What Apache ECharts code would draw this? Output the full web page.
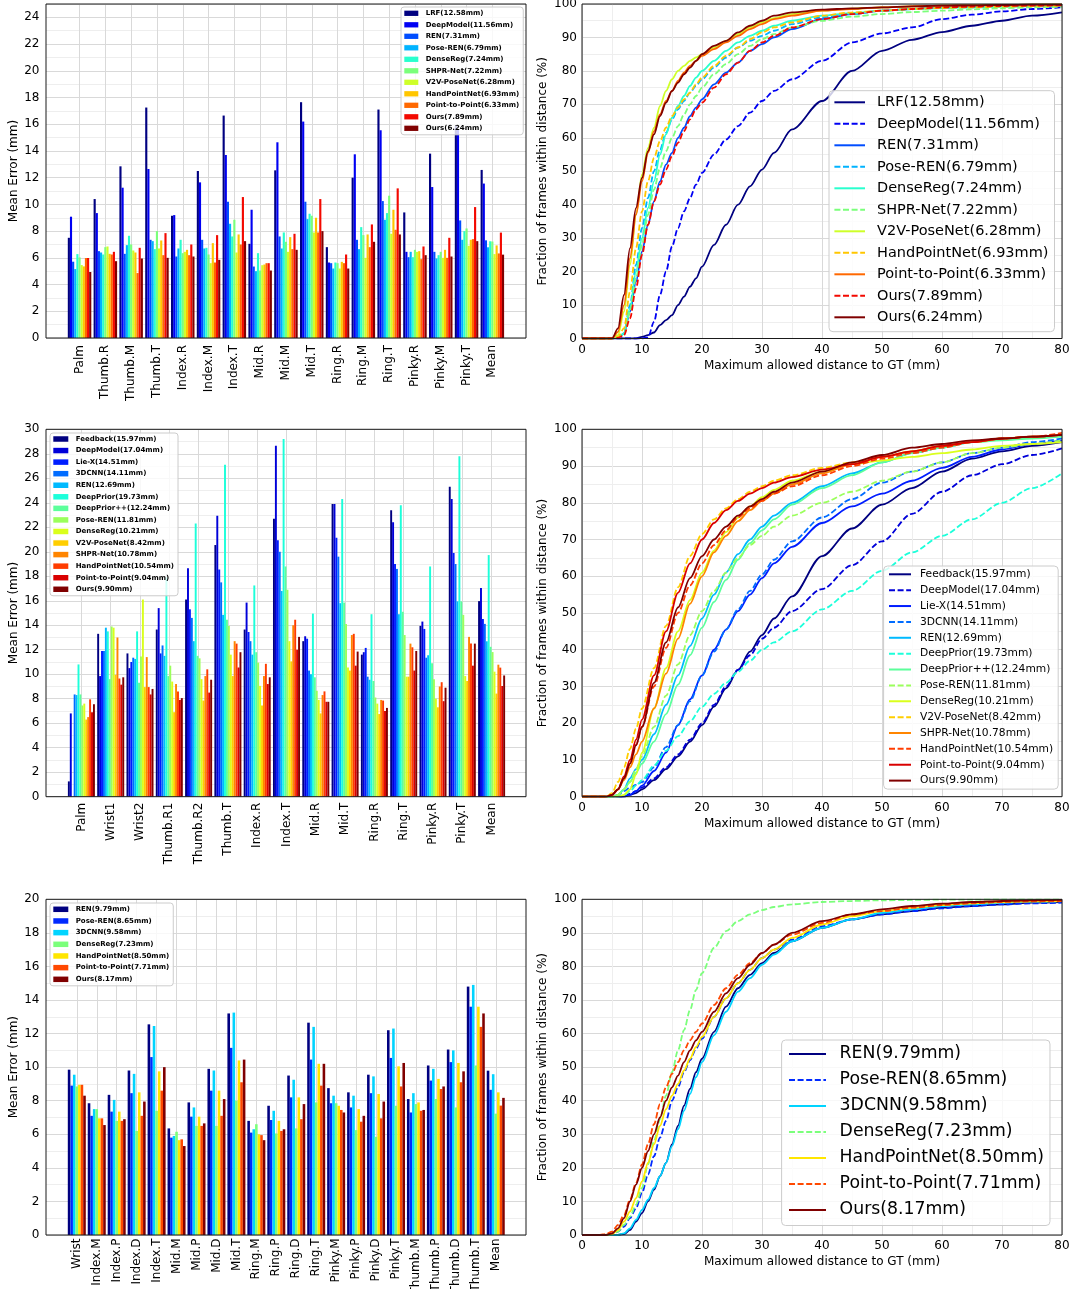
<!DOCTYPE html>
<html><head><meta charset="utf-8">
<script src="https://cdn.jsdelivr.net/npm/echarts@6/dist/echarts.min.js"></script>
<style>html,body{margin:0;padding:0;background:#fff;width:1075px;height:1289px;overflow:hidden}
.p{position:absolute;left:0;top:0;width:1075px;height:1289px;}</style>
</head><body>
<div id="c1" class="p"></div><div id="c2" class="p"></div><div id="c3" class="p"></div>
<div id="c4" class="p"></div><div id="c5" class="p"></div><div id="c6" class="p"></div>
<script>
// ---------------- Panel 1 (bars) ----------------
const P1_CATS = ['Palm','Thumb.R','Thumb.M','Thumb.T','Index.R','Index.M','Index.T','Mid.R','Mid.M','Mid.T','Ring.R','Ring.M','Ring.T','Pinky.R','Pinky.M','Pinky.T','Mean'];
const P1_NAMES = ['LRF(12.58mm)','DeepModel(11.56mm)','REN(7.31mm)','Pose-REN(6.79mm)','DenseReg(7.24mm)','SHPR-Net(7.22mm)','V2V-PoseNet(6.28mm)','HandPointNet(6.93mm)','Point-to-Point(6.33mm)','Ours(7.89mm)','Ours(6.24mm)'];
const b1_LRF      = [7.5,10.4,12.85,17.25,9.15,12.5,16.65,7.05,12.55,17.65,6.8,12.0,17.1,9.4,13.8,15.9,12.58];
const b1_DeepModel= [9.08,9.35,11.25,12.65,9.2,11.65,13.7,9.6,14.65,16.2,5.65,13.75,15.55,6.45,11.3,15.6,11.56];
const b1_REN      = [5.71,6.5,6.3,7.35,6.1,7.35,10.2,5.35,7.6,10.2,5.6,7.35,10.25,6.05,6.45,8.8,7.31];
const b1_PoseREN  = [5.16,6.4,6.95,7.25,6.7,6.7,8.55,5.0,6.7,8.9,5.2,6.65,8.85,6.45,5.95,7.35,6.79];
const b1_DenseReg = [6.28,6.25,7.65,6.65,7.35,6.75,7.6,6.35,7.9,9.3,5.65,8.3,9.35,6.05,6.2,8.0,7.24];
const b1_SHPR     = [6.03,6.8,7.0,8.0,6.35,6.25,8.85,5.05,7.2,9.15,5.6,7.7,10.65,6.6,6.45,8.2,7.22];
const b1_V2V      = [5.46,6.85,6.55,6.7,6.45,5.6,6.4,5.45,6.45,7.9,5.2,6.0,7.8,6.45,6.0,6.9,6.28];
const b1_HPN      = [5.36,6.3,6.4,7.3,6.6,7.1,7.75,5.5,7.55,9.0,5.7,7.75,9.6,6.5,6.6,7.35,6.93];
const b1_P2P      = [5.99,6.25,4.86,6.2,6.2,5.65,7.0,5.6,6.65,7.9,5.6,6.8,8.1,5.9,6.0,7.4,6.33];
const b1_Ours1    = [5.99,6.45,6.75,7.85,7.0,7.7,10.55,5.6,7.8,10.4,6.25,8.5,11.2,6.85,7.5,9.8,7.89];
const b1_Ours2    = [4.94,5.75,5.95,6.0,6.1,5.85,7.25,5.05,6.6,8.0,5.2,7.2,7.75,6.2,6.1,7.25,6.24];
const P1_SERIES = [b1_LRF,b1_DeepModel,b1_REN,b1_PoseREN,b1_DenseReg,b1_SHPR,b1_V2V,b1_HPN,b1_P2P,b1_Ours1,b1_Ours2];

// ---------------- Panel 2 (bars) ----------------
const P2_CATS = ['Palm','Wrist1','Wrist2','Thumb.R1','Thumb.R2','Thumb.T','Index.R','Index.T','Mid.R','Mid.T','Ring.R','Ring.T','Pinky.R','Pinky.T','Mean'];
const P2_NAMES = ['Feedback(15.97mm)','DeepModel(17.04mm)','Lie-X(14.51mm)','3DCNN(14.11mm)','REN(12.69mm)','DeepPrior(19.73mm)','DeepPrior++(12.24mm)','Pose-REN(11.81mm)','DenseReg(10.21mm)','V2V-PoseNet(8.42mm)','SHPR-Net(10.78mm)','HandPointNet(10.54mm)','Point-to-Point(9.04mm)','Ours(9.90mm)'];
const b2_Feedback = [1.25,13.3,11.7,13.65,16.1,20.55,13.65,22.7,12.7,23.9,11.6,23.4,13.95,25.3,15.97];
const b2_DeepModel= [6.8,9.85,10.5,15.4,18.65,22.95,15.85,28.65,13.1,23.9,11.8,22.4,14.3,24.3,17.04];
const b2_LieX     = [0,11.9,11.0,11.7,15.3,18.55,13.45,20.95,12.9,21.15,12.15,19.0,13.7,19.9,14.51];
const b2_3DCNN    = [8.35,11.9,11.35,12.35,14.6,17.5,12.7,20.0,10.3,19.6,9.8,18.6,11.35,19.0,14.11];
const b2_REN      = [8.3,13.8,11.25,11.5,12.7,14.85,11.6,16.8,10.0,15.8,9.55,14.9,11.55,15.95,12.69];
const b2_DeepPrior= [10.8,13.5,13.5,17.9,22.3,27.1,17.25,29.2,14.95,24.3,14.9,23.8,18.8,27.8,19.73];
const b2_DeepPriorPP=[8.35,9.6,9.3,9.85,11.5,14.45,11.8,18.8,9.75,15.85,9.45,15.1,10.9,15.95,12.24];
const b2_PoseREN  = [7.45,13.9,11.45,10.7,11.3,13.95,10.95,16.9,8.65,14.1,8.1,13.2,9.6,14.85,11.81];
const b2_DenseReg = [7.6,13.8,16.1,9.4,9.6,11.6,9.05,12.7,7.9,10.55,7.6,9.8,8.0,9.85,10.21];
const b2_V2V      = [6.3,9.95,8.95,6.9,7.85,9.85,7.45,11.05,6.8,10.3,6.75,9.8,7.3,9.45,8.42];
const b2_SHPR     = [6.5,13.0,11.4,9.2,9.85,12.7,9.85,14.0,8.3,13.2,7.9,12.5,9.0,13.05,10.78];
const b2_HPN      = [7.95,9.65,8.95,8.6,10.4,12.5,10.85,14.45,8.6,13.3,7.85,12.2,9.35,12.5,10.54];
const b2_P2P      = [6.9,9.15,8.35,7.9,8.5,10.55,9.2,12.0,7.75,10.7,7.0,10.3,7.8,10.7,9.04];
const b2_Ours     = [7.55,9.75,8.8,8.05,9.55,11.8,9.75,13.05,7.75,11.85,7.25,11.9,8.9,12.5,9.90];
const P2_SERIES = [b2_Feedback,b2_DeepModel,b2_LieX,b2_3DCNN,b2_REN,b2_DeepPrior,b2_DeepPriorPP,b2_PoseREN,b2_DenseReg,b2_V2V,b2_SHPR,b2_HPN,b2_P2P,b2_Ours];

// ---------------- Panel 3 (bars) ----------------
const P3_CATS = ['Wrist','Index.M','Index.P','Index.D','Index.T','Mid.M','Mid.P','Mid.D','Mid.T','Ring.M','Ring.P','Ring.D','Ring.T','Pinky.M','Pinky.P','Pinky.D','Pinky.T','Thumb.M','Thumb.P','Thumb.D','Thumb.T','Mean'];
const P3_NAMES = ['REN(9.79mm)','Pose-REN(8.65mm)','3DCNN(9.58mm)','DenseReg(7.23mm)','HandPointNet(8.50mm)','Point-to-Point(7.71mm)','Ours(8.17mm)'];
const b3_REN      = [9.85,7.85,8.35,9.8,12.55,6.35,7.9,9.9,13.2,6.8,7.7,9.5,12.65,8.75,8.5,9.55,12.2,8.1,10.1,11.05,14.8,9.79];
const b3_PoseREN  = [8.9,7.1,7.35,8.45,10.6,5.8,7.05,8.6,11.15,6.1,6.85,8.2,10.45,7.85,7.6,8.45,10.55,7.3,9.2,10.3,13.6,8.65];
const b3_3DCNN    = [9.55,7.5,8.05,9.6,12.45,5.9,7.6,9.8,13.25,6.3,7.4,9.25,12.4,8.3,8.3,9.45,12.3,8.45,9.9,11.0,14.9,9.58];
const b3_DenseReg = [8.85,7.5,6.8,6.2,7.4,6.15,6.5,6.5,8.0,6.6,6.05,6.35,7.9,7.85,6.25,5.85,7.7,7.8,8.1,7.6,10.1,7.23];
const b3_HPN      = [8.95,6.95,7.35,8.5,9.75,5.65,7.05,8.6,10.4,6.0,6.8,8.2,10.2,7.7,7.5,8.4,10.05,7.9,9.3,10.25,13.6,8.50];
const b3_P2P      = [8.95,6.95,6.8,7.1,8.6,5.7,6.5,7.1,9.1,5.95,6.2,6.9,8.9,7.45,6.75,6.95,8.85,7.4,8.7,9.1,12.4,7.71];
const b3_Ours     = [8.3,6.55,6.9,7.95,10.0,5.3,6.65,8.1,10.45,5.65,6.3,7.8,10.2,7.3,7.1,7.95,10.25,7.45,8.85,9.75,13.2,8.17];
const P3_SERIES = [b3_REN,b3_PoseREN,b3_3DCNN,b3_DenseReg,b3_HPN,b3_P2P,b3_Ours];

// ---------------- Panel 4 (CDF) ----------------
const X4 = [0,5,6,7,8,9,10,11,12,13,14,15,16,17,18,19,20,22,24,26,28,30,32,35,40,45,50,55,60,65,70,75,80];
const l4_LRF      = [0,0,0,0,0,0,0.5,1,1.8,4,5.5,7,10,12.5,15.5,18,21.5,28,34,40,45.5,50.5,55.5,62.5,71,80,86,89.3,91.6,93.5,95,96.5,97.5];
const l4_DeepModel= [0,0,0,0,0,0,0,0.3,5,13,20,27.5,33,38,42,46,49.5,55,59.5,63.5,67.5,71,74,77.5,83,88.5,91.2,93,95.5,96.8,97.8,98.5,99];
const l4_REN      = [0,0,0.2,1.5,8,17,26,34,41,47,52,55.5,60,63,66.5,69,71.5,76,79.5,82.5,86,88,90,92.5,95.5,97,98,98.5,99,99.2,99.4,99.5,99.6];
const l4_PoseREN  = [0,0,0.2,1.5,10,22,33,42,50,56.5,61.5,65.5,68.5,71,73.5,75.5,77.5,81,84,87,89,90.5,92,94,96,97,98,98.5,98.8,99,99.2,99.4,99.5];
const l4_DenseReg = [0,0,0.2,1.5,9,20,30,39,47,55,61,66,69.5,72.5,75.5,78,80,83,86,88.5,90.5,92,93.5,95,96.5,97.3,98,98.5,98.8,99,99.2,99.4,99.5];
const l4_SHPR     = [0,0,0.2,1.2,8,18,28,37,44.5,51,56,60,63.5,67,70,72.5,75,79,82,85,87.5,89.5,91,93,95,96.2,97,97.6,98,98.4,98.7,99,99.2];
const l4_V2V      = [0,0,1,8,22,37,49,57,63,69.5,74,77.5,80,81.5,83,84,85,87,89,91,93,94.5,95.8,97,98,98.6,99,99.3,99.5,99.6,99.7,99.8,99.8];
const l4_HPN      = [0,0,0.5,3,14,27,38,47,54,59,63,66.5,69,71.5,73.5,76,78,81.5,84.5,87,89.5,91.5,93,94.5,96.5,97.5,98,98.5,98.8,99,99.2,99.4,99.5];
const l4_P2P      = [0,0,2,10,24,37,47,55.5,62,67,71,74,77,79.5,81.5,83,84.5,86.5,88.5,90.5,92.5,94,95.5,96.5,98,98.5,99,99.3,99.5,99.6,99.7,99.8,99.8];
const l4_Ours1    = [0,0,0.2,1,6,15,25,34,41,46,50.5,54.5,58.5,62,65.5,68.5,70.5,75,79,82.5,86,88.5,90.5,93,95.5,97,98,98.5,99,99.2,99.4,99.5,99.6];
const l4_Ours2    = [0,0,3,13,27,39,48,56,61,66.5,70.5,74,76.5,79,81,83,85,87.5,89,91.5,93.5,95,96.5,97.5,98.3,98.7,99,99.3,99.5,99.6,99.7,99.8,99.8];
const P4_SERIES = [l4_LRF,l4_DeepModel,l4_REN,l4_PoseREN,l4_DenseReg,l4_SHPR,l4_V2V,l4_HPN,l4_P2P,l4_Ours1,l4_Ours2];
const P4_DASHED = [false,true,false,true,false,true,false,true,false,true,false];

// ---------------- Panel 5 (CDF) ----------------
const X5 = [0,4,5,6,7,8,9,10,12,14,16,18,20,22,24,26,28,30,32,35,40,45,50,55,60,65,70,75,80];
const l5_Feedback = [0,0,0,0,0,0.5,1,2,4.5,7.5,11,15,19.5,24.5,29.5,34.5,39.5,44,48.5,54.5,65.5,73,79.5,84,88.5,92,94,95.5,96.5];
const l5_DeepModel= [0,0,0,0,0,0.8,1.5,2.5,5,8,11.5,15.5,20,25,30,34.5,38.5,43,46,50.5,56.5,63,69.5,77,83,87.5,90.5,93,94.8];
const l5_LieX     = [0,0,0,0,0,0.5,1.5,3,7,12,19.5,26.5,33,40,45.5,50.5,55,59.5,63.5,68,74.5,79,82.5,86,89.5,92.5,94.5,96,97];
const l5_3DCNN    = [0,0,0,0.5,1.5,2.5,3.2,4,8,13.5,19.5,26,33,39.5,45.5,51,56,60.5,64.5,69.5,76,81,85.5,88.5,91,93.5,95,96.5,97.5];
const l5_REN      = [0,0,0,0.5,2,5,7.5,10,17,25,33,41,48.5,55,61,66,70,73.5,76.5,80,84.5,88,91,93.5,95,96.5,97.5,98,98.5];
const l5_DeepPrior= [0,0,0,0,0.5,1.5,3,4.5,8.5,12.5,16.5,20.5,24.5,28,31,34,37,40,42,45,51,56,61.5,66.5,71,75.5,80,84,88];
const l5_DeepPriorPP=[0,0,0,0.5,2,4,6.5,9,15,22.5,30.5,38.5,46,53,59,64.5,69,72.5,75.5,79.5,84,87.5,91,93.5,95,96.5,97,97.5,98];
const l5_PoseREN  = [0,0,0,0.5,2,4,7.5,11,19,27.5,36,44,50.5,56,61,65,68.5,71,73.5,76.5,80,83,86,88.5,91,93.5,95,96,97];
const l5_DenseReg = [0,0,0,0,0.5,2,6,12,24,35,45,53.5,61,67,72,76,79,81.5,83.5,86,88.5,90.5,91.5,92.5,93.5,94.5,95.5,96,96.5];
const l5_V2V      = [0,0,1,4,8,13,18.5,24,35,46.5,57,65.5,71.5,75.5,78.5,81,83,84.5,86,87.5,89.5,91,92.5,94,95.5,96.5,97.5,98,98.5];
const l5_SHPR     = [0,0,0.5,2,4.5,8,11.5,15,24,33.5,43,52.5,60,66.5,71,75,78,80.5,82.5,85,88,90.5,92.5,94,95.5,96.5,97.5,98,98.5];
const l5_HPN      = [0,0,0.5,2,5,9,14,19,30,40.5,50,57.5,63.5,68.5,72.5,76,78.5,80.5,82.5,84.5,87.5,90,92,93.5,95,96.5,97.5,98,99];
const l5_P2P      = [0,0,0.5,2,5.5,10,15.5,21,33,45,55.5,63.5,70,74.5,78,80.5,82.5,84,85.5,87,89,90.5,92.5,94,95.5,96.5,97.5,98,98.5];
const l5_Ours     = [0,0,0.5,2,5,9,14,19,31,42,51.5,59.5,65.5,70,73.5,76.5,79,81,83,85.5,88.5,91,93,95,96,97,97.5,98,98.5];
const P5_SERIES = [l5_Feedback,l5_DeepModel,l5_LieX,l5_3DCNN,l5_REN,l5_DeepPrior,l5_DeepPriorPP,l5_PoseREN,l5_DenseReg,l5_V2V,l5_SHPR,l5_HPN,l5_P2P,l5_Ours];
const P5_DASHED = [false,true,false,true,false,true,false,true,false,true,false,true,false,false];

// ---------------- Panel 6 (CDF) ----------------
const X6 = [0,3,4,5,6,7,8,9,10,11,12,13,14,15,16,17,18,19,20,22,24,26,28,30,32,35,40,45,50,55,60,65,70,75,80];
const l6_REN      = [0,0,0,0,0,0.3,1.5,4,6.5,10,13.5,17.5,21.5,27,32.5,38.5,43.5,48.5,52.5,60.5,68,73.5,77.5,81,84,87.5,91.5,94,95.5,96.5,97.5,98,98.5,99,99.2];
const l6_PoseREN  = [0,0,0,0.2,1,2.5,5,8,12.5,18,23.5,29,34,40,44,48.5,52,55.5,58.5,65,70.5,75,79,82.5,85,88,92,94,95.5,96.5,97.3,98,98.5,98.8,99];
const l6_3DCNN    = [0,0,0,0,0,0.5,2,4.5,7.5,10.5,14,17.5,21.5,26.5,31.5,37,42,47,51.5,59.5,66.5,72.5,76.5,80.5,83.5,87.5,91.5,94,96,97,98,98.5,99,99.3,99.5];
const l6_DenseReg = [0,0,0,0.2,1,3,5.5,9,14,21,28,34.5,41.5,48.5,55,61,67,73,78,85.5,90.5,93.5,95.5,96.8,97.7,98.5,99.2,99.5,99.7,99.8,99.9,99.9,100,100,100];
const l6_HPN      = [0,0,0,0.3,1.5,4,7,11,16,21.5,27,32.5,37.5,41.5,45,49,52.5,56,59,65,70.5,75,79,82.5,85,88.5,92.5,95,96.5,97.5,98.3,98.8,99.2,99.4,99.5];
const l6_P2P      = [0,0,0.3,1,3,6,10.5,15.5,21,27,33,39,44,48,51.5,55,58,60.5,63,68.5,73.5,77.5,81,84,86.5,89.5,93,95.5,96.5,97.5,98.3,98.8,99.2,99.4,99.5];
const l6_Ours     = [0,0,0,0.5,2,5,10,15,20,25,30,35,40,44,47.5,51.5,55,58,60.5,66.5,72,76.5,80.5,84,86.5,90,93.5,95.5,97,98,98.7,99.2,99.5,99.7,99.8];
const P6_SERIES = [l6_REN,l6_PoseREN,l6_3DCNN,l6_DenseReg,l6_HPN,l6_P2P,l6_Ours];
const P6_DASHED = [false,true,false,true,false,true,false];

// ---------------- helpers ----------------
const FONT = 'DejaVu Sans';
const GRID_MAJOR = '#d9d9d9', GRID_MINOR = '#eeeeee', FRAME = '#1a1a1a';
function seg(t, pts){ for(let i=1;i<pts.length;i++){ if(t<=pts[i][0]){ const a=pts[i-1], b=pts[i]; return a[1]+(b[1]-a[1])*(t-a[0])/(b[0]-a[0]); } } return pts[pts.length-1][1]; }
function jet(t){
  const r=seg(t,[[0,0],[0.35,0],[0.66,1],[0.89,1],[1,0.5]]);
  const g=seg(t,[[0,0],[0.125,0],[0.375,1],[0.64,1],[0.91,0],[1,0]]);
  const b=seg(t,[[0,0.5],[0.11,1],[0.34,1],[0.65,0],[1,0]]);
  return 'rgb('+Math.round(r*255)+','+Math.round(g*255)+','+Math.round(b*255)+')';
}

function barPanel(id, c){
  const n = c.cats.length, m = c.series.length, H = c.bottom - c.top;
  const chart = echarts.init(document.getElementById(id));
  const gap = ((1 - c.group/c.step)*100).toFixed(1)+'%';
  chart.setOption({
    animation:false,
    textStyle:{fontFamily:FONT},
    grid:[
      {left:c.left, top:c.top, width:c.right-c.left, height:H, show:true, borderColor:FRAME, borderWidth:1, backgroundColor:'transparent', z:10, containLabel:false, outerBoundsMode:'none'},
      {left:c.c0, top:c.top, width:(n-1)*c.step, height:H, containLabel:false, outerBoundsMode:'none'},
      {left:c.c0 - c.step/2, top:c.top, width:n*c.step, height:H, containLabel:false, outerBoundsMode:'none'}
    ],
    xAxis:[
      {gridIndex:0, type:'value', min:0, max:1, show:false},
      {gridIndex:1, type:'value', min:0, max:n-1, interval:1, axisLabel:{show:false}, axisLine:{show:false}, axisTick:{show:false}, splitLine:{show:true, lineStyle:{color:GRID_MAJOR, width:1}}},
      {gridIndex:2, type:'category', data:c.cats, axisLine:{show:false}, axisTick:{show:false}, splitLine:{show:false},
       axisLabel:{interval:0, rotate:90, margin:c.labelMargin, fontSize:12, color:'#000', fontFamily:FONT}}
    ],
    yAxis:[
      {gridIndex:0, position:'left', type:'value', min:0, max:c.ymax, interval:1, axisLine:{show:false}, axisTick:{show:false}, axisLabel:{show:false}, splitLine:{show:true, lineStyle:{color:GRID_MINOR}}},
      {gridIndex:0, position:'left', type:'value', min:0, max:c.ymax, interval:2, axisLine:{show:false}, axisTick:{show:false},
       axisLabel:{fontSize:12, color:'#000', margin:6.5, fontFamily:FONT, showMaxLabel: c.ymax%2===0},
       splitLine:{show:true, lineStyle:{color:GRID_MAJOR}},
       name:'Mean Error (mm)', nameLocation:'middle', nameGap:26, nameTextStyle:{fontSize:12, color:'#000', fontFamily:FONT}},
      {gridIndex:1, type:'value', min:0, max:c.ymax, show:false},
      {gridIndex:2, type:'value', min:0, max:c.ymax, show:false}
    ],
    legend:{orient:'vertical', left:c.lg.left, top:c.lg.top, padding:c.lg.padding, itemWidth:c.lg.iw, itemHeight:c.lg.ih, itemGap:c.lg.gap,
      icon:'rect', backgroundColor:'rgba(255,255,255,0.8)', borderColor:'#cccccc', borderWidth:1, borderRadius:3, z:20, selectedMode:false,
      textStyle:{fontSize:7, fontWeight:'bold', lineHeight:9, color:'#000', fontFamily:FONT, padding:[0,0,0,2.4]}, data:c.names},
    series: c.series.map((vals,k)=>({type:'bar', name:c.names[k], xAxisIndex:2, yAxisIndex:3, data:vals, barGap:'0%', barCategoryGap:gap,
      itemStyle:{color:jet(k/(m-1))}, clip:false}))
  });
}

function linePanel(id, c){
  const m = c.series.length;
  const chart = echarts.init(document.getElementById(id));
  const axisCommon = {axisLine:{show:false}, axisTick:{show:false}, minorTick:{show:false, splitNumber:2},
    minorSplitLine:{show:true, lineStyle:{color:GRID_MINOR}}, splitLine:{show:true, lineStyle:{color:GRID_MAJOR}},
    axisLabel:{fontSize:12, color:'#000', margin:5, fontFamily:FONT}, nameLocation:'middle', nameTextStyle:{fontSize:12, color:'#000', fontFamily:FONT}};
  chart.setOption({
    animation:false,
    textStyle:{fontFamily:FONT},
    grid:{left:582, top:c.top, width:480, height:c.bottom-c.top, show:true, borderColor:FRAME, borderWidth:1, backgroundColor:'transparent', z:10, containLabel:false, outerBoundsMode:'none'},
    xAxis:Object.assign({type:'value', min:0, max:80, interval:10, name:'Maximum allowed distance to GT (mm)', nameGap:21}, axisCommon),
    yAxis:Object.assign({type:'value', position:'left', min:0, max:100, interval:10, name:'Fraction of frames within distance (%)', nameGap:33}, axisCommon),
    legend:{orient:'vertical', left:c.lg.left, top:c.lg.top, padding:c.lg.padding, itemWidth:c.lg.iw, itemHeight:c.lg.ih, itemGap:c.lg.gap,
      backgroundColor:'rgba(255,255,255,0.8)', borderColor:'#cccccc', borderWidth:1, borderRadius:4, z:20, selectedMode:false,
      itemStyle:{opacity:0, borderWidth:0},
      textStyle:{fontSize:c.lg.fs, lineHeight:c.lg.lh, color:'#000', fontFamily:FONT, padding:[0,0,0,c.lg.tp]}, data:c.names},
    series: c.series.map((ys,k)=>({type:'line', name:c.names[k], data:c.x.map((x,i)=>[x, ys[i]]), symbol:'none', showSymbol:false,
      smooth:0.3, smoothMonotone:'x', clip:true,
      lineStyle:{width:1.8, color:jet(k/(m-1)), type: c.dashed[k] ? [6,2.6] : 'solid'}, itemStyle:{color:jet(k/(m-1))}}))
  });
}

barPanel('c1', {cats:P1_CATS, names:P1_NAMES, series:P1_SERIES, ymax:25, left:46, right:526, top:4, bottom:338,
  c0:79.55, step:25.8, group:23.5, labelMargin:7,
  lg:{left:401, top:7, padding:[1.8,4,2,3.3], iw:14, ih:5.3, gap:2.5}});
barPanel('c2', {cats:P2_CATS, names:P2_NAMES, series:P2_SERIES, ymax:30, left:46, right:526, top:429.3, bottom:796.7,
  c0:81.4, step:29.3, group:27, labelMargin:6,
  lg:{left:50, top:433, padding:[1.5,4,2,3.3], iw:15, ih:5.5, gap:2.56}});
barPanel('c3', {cats:P3_CATS, names:P3_NAMES, series:P3_SERIES, ymax:20, left:46, right:526, top:899.3, bottom:1235,
  c0:76.8, step:19.95, group:18, labelMargin:3.5,
  lg:{left:50, top:903, padding:[1.8,4,2,3.3], iw:15, ih:5.5, gap:2.67}});

linePanel('c4', {x:X4, series:P4_SERIES, names:P1_NAMES, dashed:P4_DASHED, top:4, bottom:338.5,
  lg:{left:829, top:90.7, padding:[3.1,6,5.9,4.4], iw:30.6, ih:14, gap:4.5, fs:14.5, lh:17, tp:7}});
linePanel('c5', {x:X5, series:P5_SERIES, names:P2_NAMES, dashed:P5_DASHED, top:429.3, bottom:796.7,
  lg:{left:883.6, top:566, padding:[1.8,5,2,4.4], iw:22, ih:10, gap:2.87, fs:10.7, lh:13, tp:4}});
linePanel('c6', {x:X6, series:P6_SERIES, names:P3_NAMES, dashed:P6_DASHED, top:899.3, bottom:1235,
  lg:{left:781.6, top:1040, padding:[3.5,6,5,6.4], iw:37, ih:16, gap:5, fs:17.3, lh:21, tp:8.6}});
</script>
</body></html>
